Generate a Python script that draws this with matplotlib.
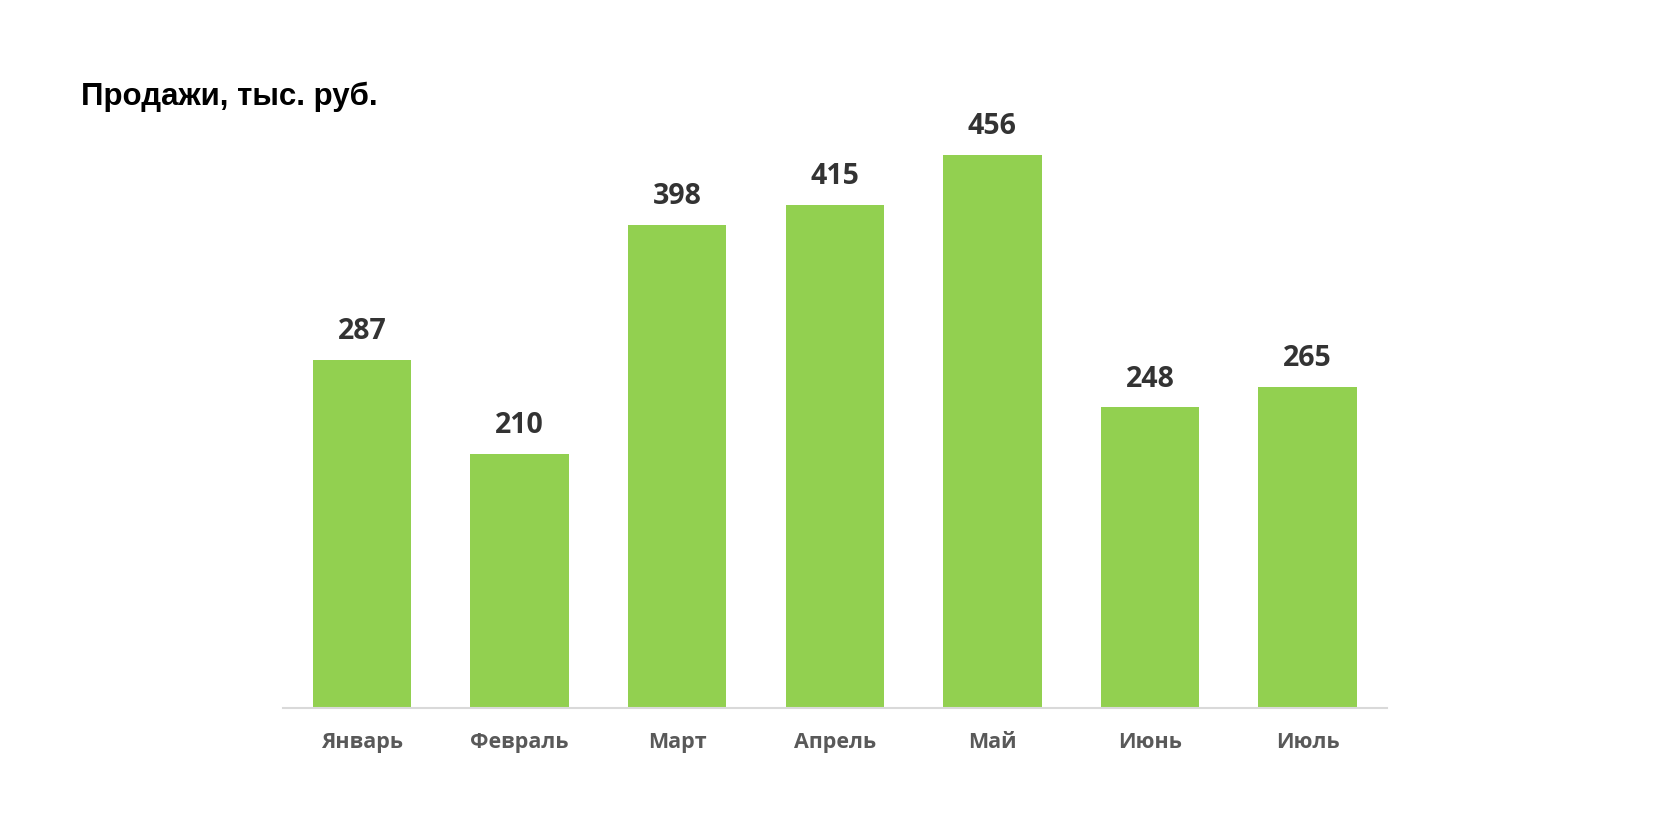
import matplotlib
matplotlib.use('Agg')
import matplotlib.pyplot as plt

# данные
months = ['Январь', 'Февраль', 'Март', 'Апрель', 'Май', 'Июнь', 'Июль']
sales = [287, 210, 398, 415, 456, 248, 265]

bar_color = '#92D050'

fig = plt.figure(figsize=(16.8, 8.34), dpi=100)
ax = fig.add_axes([0.1685, 0.1505, 0.6568, 0.7278])

x = range(len(months))
ax.bar(x, sales, width=0.625, color=bar_color, edgecolor='none')

ax.set_xlim(-0.5, len(months) - 0.5)
ax.set_ylim(0, 500)

# подписи значений
for xi, val in zip(x, sales):
    ax.annotate(str(val), (xi, val), xytext=(0, 10), textcoords='offset points',
                ha='center', va='bottom', fontsize=20.5, fontweight='bold',
                family='Open Sans', color='#333333')

ax.set_xticks(list(x))
ax.set_xticklabels(months, fontsize=15.5, fontweight='bold', family='Open Sans', color='#595959')
ax.tick_params(axis='x', length=0, pad=17)
ax.set_yticks([])

for side in ['top', 'right', 'left']:
    ax.spines[side].set_visible(False)
ax.spines['bottom'].set_color('#D9D9D9')
ax.spines['bottom'].set_linewidth(1.5)

fig.text(81 / 1680, 1 - 97 / 834, 'Продажи, тыс. руб.', ha='left', va='center',
         fontsize=22.5, fontweight='bold', family='Liberation Sans', color='black')

fig.savefig('out.png', dpi=100)
